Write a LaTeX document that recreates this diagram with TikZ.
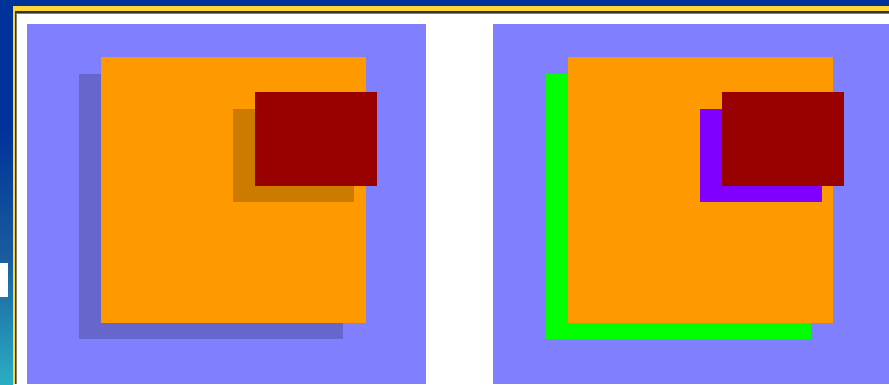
\documentclass[tikz,border=0pt]{standalone}
\definecolor{bgblue}{HTML}{003399}
\definecolor{midblue}{HTML}{1A5C9E}
\definecolor{teal}{HTML}{2AAEC2}
\definecolor{gold}{HTML}{FFD633}
\definecolor{panelblue}{HTML}{8080FF}
\definecolor{slate}{HTML}{6666CC}
\definecolor{orangeA}{HTML}{FF9900}
\definecolor{orangeD}{HTML}{CC7A00}
\definecolor{darkred}{HTML}{990000}
\definecolor{lime}{HTML}{00FF00}
\definecolor{violet}{HTML}{8000FF}
\begin{document}
\begin{tikzpicture}[x=1pt,y=-1pt,
  panel/.style={fill=panelblue},
  bigsq/.style={fill=orangeA},
  smallsq/.style={fill=darkred}]
\useasboundingbox (0,0) rectangle (889,384);
% background
\fill[bgblue] (0,0) rectangle (889,384);
\shade[top color=bgblue, bottom color=teal, middle color=midblue] (0,130) rectangle (13,384);
\fill[white] (0,263) rectangle (8,297);
% frame
\fill[gold] (13,6) rectangle (889,384);
\fill[black!80] (15,11) rectangle (889,384);
\fill[gray] (16,12.5) rectangle (889,384);
\fill[white] (17,14) rectangle (889,384);
% left panel
\fill[panel] (27,24) rectangle (426,384);
\fill[slate] (79,74) rectangle (343,339);
\fill[bigsq] (101,57) rectangle (366,323);
\fill[orangeD] (233,109) rectangle (354,202);
\fill[smallsq] (255,92) rectangle (377,186);
% right panel
\fill[panel] (493,24) rectangle (889,384);
\fill[lime] (546,74) rectangle (811,339);
\fill[bigsq] (568,57) rectangle (833,323);
\fill[violet] (700,109) rectangle (822,202);
\fill[smallsq] (722,92) rectangle (844,186);
\end{tikzpicture}
\end{document}
